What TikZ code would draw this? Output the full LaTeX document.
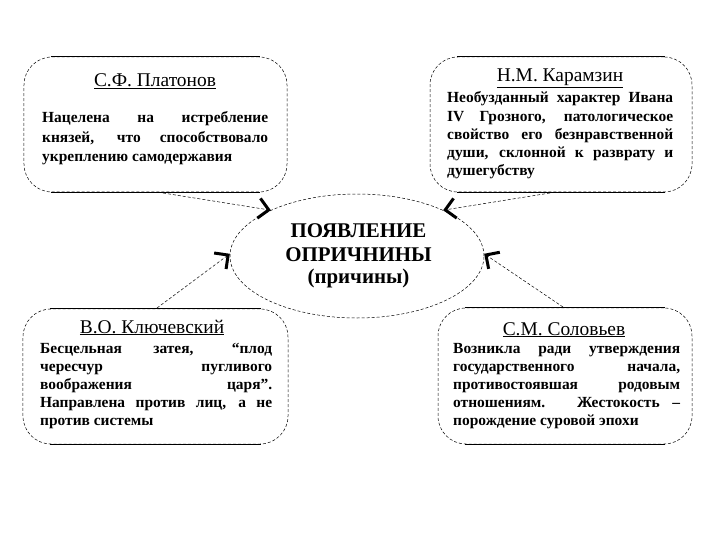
\documentclass[tikz,border=0pt]{standalone}
\usepackage{fontspec}
\setmainfont{Liberation Serif}
\usetikzlibrary{shapes.geometric,arrows.meta}
\tikzset{
  boxshape/.style={draw, densely dashed, line width=0.5bp, rounded corners=28bp, inner sep=0pt},
  edgeline/.style={draw, line width=1.1bp},
  titletext/.style={inner sep=0pt, anchor=base, font=\fontsize{19.5}{22}\selectfont},
  bodytext/.style={inner sep=0pt, anchor=base west, align=justify, font=\fontsize{15.5}{18.3}\selectfont\bfseries},
  centeroval/.style={draw, ellipse, densely dashed, line width=0.5bp, inner sep=0pt},
  ovaltext/.style={inner sep=0pt, anchor=base, font=\fontsize{21}{24}\selectfont\bfseries},
  conn/.style={densely dashed, line width=0.5bp, -{Straight Barb[length=10bp, width=20bp, line width=3bp]}}
}
\begin{document}
\begin{tikzpicture}[x=1bp,y=-1bp]
\useasboundingbox (0,0) rectangle (720,540);
% boxes
\node[boxshape, minimum width=263bp, minimum height=135bp] (b1) at (155.5,124.5) {};
\node[boxshape, minimum width=262bp, minimum height=135bp] (b2) at (561,124.5) {};
\node[boxshape, minimum width=265bp, minimum height=135bp] (b3) at (155.5,376.5) {};
\node[boxshape, minimum width=254bp, minimum height=136bp] (b4) at (565,376) {};
\foreach \b in {b1,b2,b3,b4}{
  \draw[edgeline] ([xshift=27bp]\b.north west) -- ([xshift=-27bp]\b.north east);
  \draw[edgeline] ([xshift=27bp]\b.south west) -- ([xshift=-27bp]\b.south east);
}
% ellipse
\node[centeroval, minimum width=254bp, minimum height=124bp] (e) at (357,256) {};
\node[ovaltext] (e1) at (358.5,238) {ПОЯВЛЕНИЕ};
\node[ovaltext] (e2) at (358.5,261.5) {ОПРИЧНИНЫ};
\node[ovaltext] (e3) at (358.5,284) {(причины)};
% titles
\node[titletext] (t1) at (155,86.7) {\underline{С.Ф. Платонов}};
\node[titletext] (t2) at (560,81.7) {\underline{Н.М. Карамзин}};
\node[titletext] (t3) at (152,333) {\underline{В.О. Ключевский}};
\node[titletext] (t4) at (564,335) {\underline{С.М. Соловьев}};
% bodies
\node[bodytext, text width=226bp, font=\fontsize{15.5}{19.5}\selectfont\bfseries] (p1) at (42,123) {Нацелена на истребление\linebreak князей, что способствовало\linebreak укреплению самодержавия};
\node[bodytext, text width=226bp] (p2) at (447,103) {Необузданный характер Ивана\linebreak IV Грозного, патологическое\linebreak свойство его безнравственной\linebreak души, склонной к разврату и\linebreak душегубству};
\node[bodytext, text width=232bp] (p3) at (40,353) {Бесцельная затея, “плод\linebreak чересчур пугливого\linebreak воображения царя”.\linebreak Направлена против лиц, а не\linebreak против системы};
\node[bodytext, text width=227bp] (p4) at (453,353) {Возникла ради утверждения\linebreak государственного начала,\linebreak противостоявшая родовым\linebreak отношениям. Жестокость –\linebreak порождение суровой эпохи};
% connectors
\coordinate (s1) at (163,193);
\coordinate (s2) at (550,193);
\coordinate (s3) at (157,308);
\coordinate (s4) at (563,307);
\draw[conn] (s1) -- (e.152);
\draw[conn] (s2) -- (e.28);
\draw[conn] (s3) -- (e.179);
\draw[conn] (s4) -- (e.1);
\end{tikzpicture}
\end{document}
